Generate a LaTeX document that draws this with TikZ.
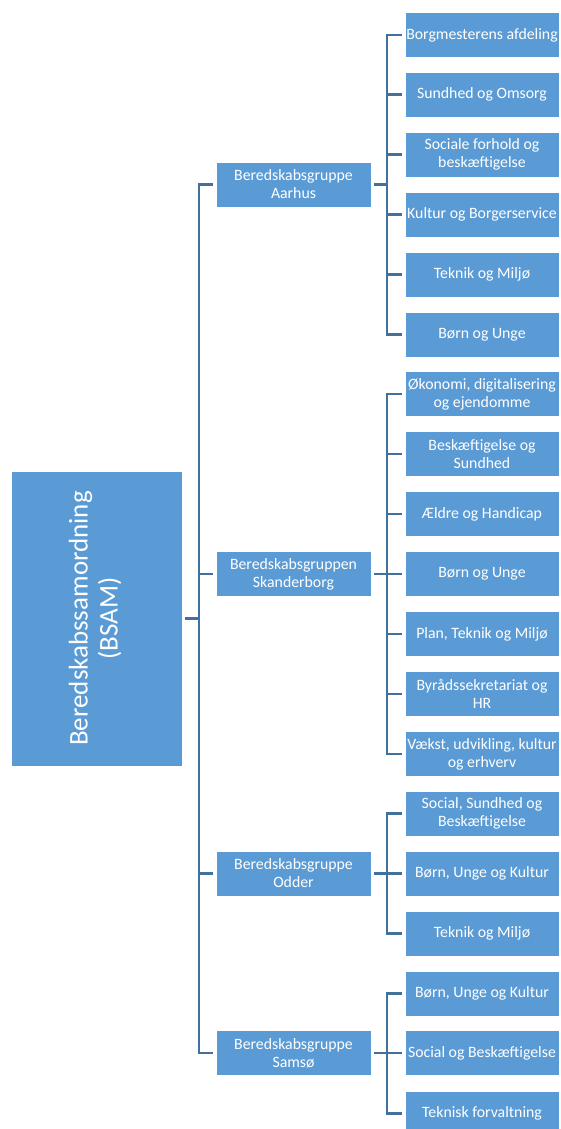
\documentclass[tikz,border=0pt]{standalone}
\usepackage{fontspec}
\setmainfont{Carlito}
\usepackage{graphicx}
\usepackage{tikz}
\definecolor{bsfill}{HTML}{5B9BD5}
\definecolor{bsline}{HTML}{41719C}
\tikzset{
    every node/.style={rectangle, draw=white, thin, fill=bsfill, text=white,
        align=center, inner sep=0pt, outer sep=3pt,
        font=\fontsize{15.8}{18}\selectfont},
    grp/.style={minimum width=155, minimum height=45},
    unit/.style={minimum width=154, minimum height=45},
    link/.style={draw=bsline, line width=2.8}
}

\begin{document}
\begin{tikzpicture}[x=1pt, y=-1pt]
    \useasboundingbox (0,0) rectangle (560,1129);

    \node (bsam) at (96.5,618.5) [minimum width=171, minimum height=295,
        font=\fontsize{27}{30}\selectfont]
        {\rotatebox{90}{\begin{tabular}{@{}c@{}}Beredskabssamordning\\(BSAM)\end{tabular}}};

    \node (aarhus) at (293.5,184.5) [grp] {Beredskabsgruppe\\Aarhus};
    \node (skb) at (293.5,574) [grp] {Beredskabsgruppen\\Skanderborg};
    \node (odder) at (293.5,873.5) [grp] {Beredskabsgruppe\\Odder};
    \node (samso) at (293.5,1053) [grp] {Beredskabsgruppe\\Samsø};

    % Aarhus
    \node (a1) at (482,35) [unit] {Borgmesterens afdeling};
    \node (a2) at (482,94.5) [unit] {Sundhed og Omsorg};
    \node (a3) at (482,154.5) [unit] {Sociale forhold og\\beskæftigelse};
    \node (a4) at (482,214.5) [unit] {Kultur og Borgerservice};
    \node (a5) at (482,274.5) [unit] {Teknik og Miljø};
    \node (a6) at (482,334.5) [unit] {Børn og Unge};

    % Skanderborg
    \node (s1) at (482,394) [unit] {Økonomi, digitalisering\\og ejendomme};
    \node (s2) at (482,454) [unit] {Beskæftigelse og\\Sundhed};
    \node (s3) at (482,514) [unit] {Ældre og Handicap};
    \node (s4) at (482,574) [unit] {Børn og Unge};
    \node (s5) at (482,634) [unit] {Plan, Teknik og Miljø};
    \node (s6) at (482,694) [unit] {Byrådssekretariat og\\HR};
    \node (s7) at (482,754) [unit] {Vækst, udvikling, kultur\\og erhverv};

    % Odder
    \node (o1) at (482,813.5) [unit] {Social, Sundhed og\\Beskæftigelse};
    \node (o2) at (482,873.5) [unit] {Børn, Unge og Kultur};
    \node (o3) at (482,933.5) [unit] {Teknik og Miljø};

    % Samsø
    \node (m1) at (482,993.5) [unit] {Børn, Unge og Kultur};
    \node (m2) at (482,1053) [unit] {Social og Beskæftigelse};
    \node (m3) at (482,1113.5) [unit] {Teknisk forvaltning};

    \foreach \g in {aarhus, skb, odder, samso}
        \draw [link] (bsam.east) -- ++(14,0) |- (\g.west);

    \foreach \u in {a1, a2, a3, a4, a5, a6}
        \draw [link] (aarhus.east) -- ++(13,0) |- (\u.west);
    \foreach \u in {s1, s2, s3, s4, s5, s6, s7}
        \draw [link] (skb.east) -- ++(13,0) |- (\u.west);
    \foreach \u in {o1, o2, o3}
        \draw [link] (odder.east) -- ++(13,0) |- (\u.west);
    \foreach \u in {m1, m2, m3}
        \draw [link] (samso.east) -- ++(13,0) |- (\u.west);
\end{tikzpicture}
\end{document}
